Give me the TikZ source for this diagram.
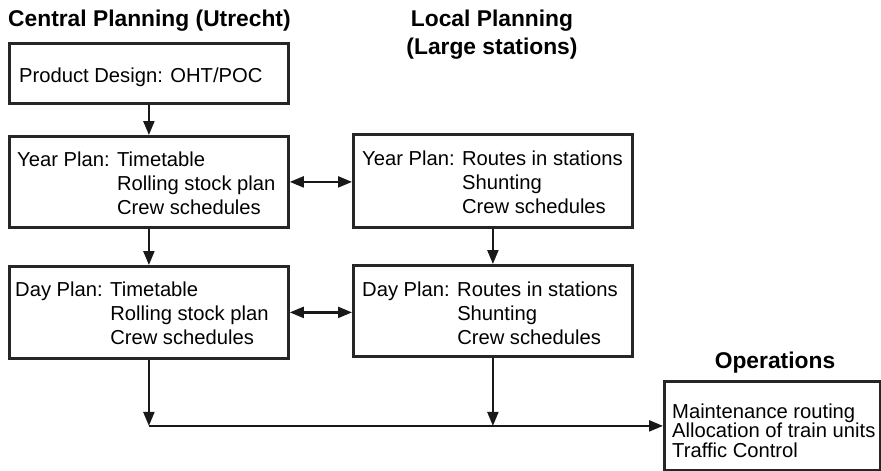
\documentclass[tikz,border=0pt]{standalone}
\usepackage{fontspec}
\setmainfont{Liberation Sans}
\usetikzlibrary{arrows.meta}
\begin{document}
\begin{tikzpicture}[x=1pt,y=-1pt,
  box/.style={draw=black!85, line width=2.8pt, rectangle, anchor=north west, inner sep=0pt},
  txt/.style={anchor=north west, inner sep=0pt, align=left, font=\fontsize{20.2}{24}\selectfont},
  optxt/.style={anchor=north west, inner sep=0pt, align=left, font=\fontsize{20.2}{19.5}\selectfont},
  ttl/.style={inner sep=0pt, font=\fontsize{22.8}{28}\selectfont\bfseries},
  conn/.style={line width=2.2pt, draw=black!90},
  arr/.style={conn, -{Triangle[length=14pt,width=11pt]}},
  darr/.style={conn, {Triangle[length=14pt,width=11pt]}-{Triangle[length=14pt,width=11pt]}}]
\useasboundingbox (0,0) rectangle (881,471);
\fill[white] (0,0) rectangle (881,471);
% titles
\node[ttl, anchor=base west] (tc) at (8,26) {Central Planning (Utrecht)};
\node[ttl, anchor=north, align=center] (tl) at (492,9) {\rule{0pt}{17pt}Local Planning\\(Large stations)};
\node[ttl, anchor=base] (to) at (775,368) {Operations};
% boxes
\node[box, minimum width=279, minimum height=60] (b1) at (8,42) {};
\node[box, minimum width=279, minimum height=91] (b2) at (8,135) {};
\node[box, minimum width=279, minimum height=93] (b3) at (352,133) {};
\node[box, minimum width=279, minimum height=92] (b5) at (8,265) {};
\node[box, minimum width=279, minimum height=91] (b4) at (352,264) {};
\node[box, minimum width=216, minimum height=89] (ops) at (663,380) {};
% texts
\node[txt] (t1) at (19,67) {\rule{0pt}{15pt}Product Design: OHT/POC};
\node[txt] (t2) at (17,151) {\rule{0pt}{15pt}Year Plan: Timetable\\\hphantom{Year Plan: }Rolling stock plan\\\hphantom{Year Plan: }Crew schedules};
\node[txt] (t3) at (362,150) {\rule{0pt}{15pt}Year Plan: Routes in stations\\\hphantom{Year Plan: }Shunting\\\hphantom{Year Plan: }Crew schedules};
\node[txt] (t5) at (15,281) {\rule{0pt}{15pt}Day Plan: Timetable\\\hphantom{Day Plan: }Rolling stock plan\\\hphantom{Day Plan: }Crew schedules};
\node[txt] (t4) at (362,281) {\rule{0pt}{15pt}Day Plan: Routes in stations\\\hphantom{Day Plan: }Shunting\\\hphantom{Day Plan: }Crew schedules};
\node[optxt] (t6) at (672,403) {\rule{0pt}{15pt}Maintenance routing\\Allocation of train units\\Traffic Control};
% connectors
\draw[arr] (b1.south) -- (b2.north);
\draw[arr] (b2.south) -- (b5.north);
\draw[arr] (b3.south) -- (b4.north);
\draw[darr] (b2.east) -- (b2.east -| b3.west);
\draw[darr] (b5.east) -- (b5.east -| b4.west);
\coordinate (j1) at (b5.south |- ops.west);
\coordinate (j2) at (b4.south |- ops.west);
\draw[arr] (b5.south) -- (j1);
\draw[arr] (b4.south) -- (j2);
\draw[arr] (j1) -- (ops.west);
\end{tikzpicture}
\end{document}
